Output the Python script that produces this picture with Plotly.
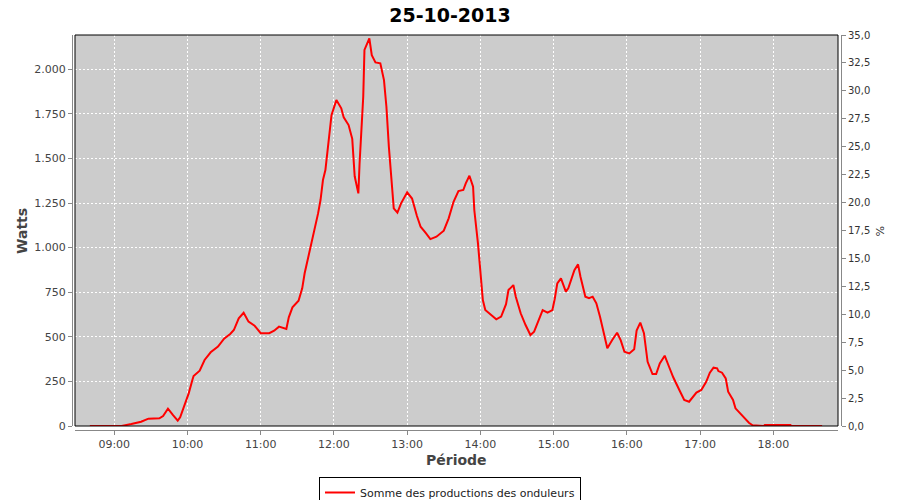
import plotly.graph_objects as go

DAY = "2013-10-25"

times = ["08:40","09:06","09:14","09:22","09:28","09:37","09:40","09:44","09:48","09:52","09:54","09:57",
         "10:01","10:04","10:05","10:10","10:14","10:19","10:25","10:30","10:35","10:38","10:42","10:46","10:50","10:55",
         "11:00","11:07","11:11","11:15","11:21","11:23","11:26","11:31","11:34","11:36","11:39","11:42","11:45","11:47","11:49","11:51","11:53","11:55","11:58",
         "12:02","12:06","12:08","12:12","12:15","12:17","12:20","12:21","12:24","12:25","12:29","12:31","12:34","12:38","12:41","12:43","12:45","12:47","12:49","12:52","12:55",
         "13:00","13:04","13:08","13:11","13:15","13:19","13:24","13:30","13:34","13:38","13:42","13:46","13:48","13:51","13:54","13:55","13:58",
         "14:00","14:02","14:04","14:09","14:13","14:17","14:21","14:23","14:27","14:29","14:33","14:37","14:41","14:44","14:47","14:51","14:55","14:59",
         "15:01","15:03","15:06","15:10","15:12","15:17","15:20","15:22","15:26","15:29","15:32","15:35","15:38","15:41","15:44","15:48","15:52","15:55","15:58",
         "16:02","16:06","16:08","16:11","16:14","16:17","16:21","16:24","16:27","16:31","16:34","16:38","16:43","16:47","16:51","16:54","16:57",
         "17:01","17:05","17:08","17:11","17:14","17:15","17:18","17:21","17:23","17:27","17:29","17:33","17:36","17:40","17:43","17:52","17:53",
         "18:14","18:15","18:40"]

watts = [0,0,11,24,41,43,56,97,62,30,49,108,
         183,258,280,310,370,413,445,490,516,538,604,635,585,562,
         520,520,534,557,544,609,665,702,772,856,949,1033,1117,1192,1267,1379,1435,1575,1743,
         1827,1781,1730,1687,1610,1400,1304,1472,1846,2108,2173,2079,2038,2033,1939,1790,1565,1379,1220,1196,1248,
         1310,1275,1177,1117,1084,1048,1061,1095,1164,1257,1317,1323,1360,1403,1341,1211,1024,
         837,706,650,622,598,613,683,762,790,725,632,566,510,529,585,650,635,650,
         716,800,828,753,772,874,906,837,725,716,725,688,613,529,436,482,523,480,416,
         407,430,535,580,520,360,291,291,351,394,342,273,202,146,136,164,187,
         202,248,299,327,323,308,299,267,192,146,99,71,52,18,4,0,5,
         5,0,0]

series_name = "Somme des productions des onduleurs"
title_text = "25-10-2013"
x_title = "Période"
y_title = "Watts"
y2_title = "%"

watts_ticks = [0, 250, 500, 750, 1000, 1250, 1500, 1750, 2000]
pct_ticks = [0, 2.5, 5, 7.5, 10, 12.5, 15, 17.5, 20, 22.5, 25, 27.5, 30, 32.5, 35]
hour_ticks = ["09:00","10:00","11:00","12:00","13:00","14:00","15:00","16:00","17:00","18:00"]

x_vals = [f"{DAY} {t}" for t in times]

FONT = "DejaVu Sans"
fig = go.Figure()
fig.add_trace(go.Scatter(x=x_vals, y=watts, mode="lines", name=series_name,
                         line=dict(color="#ff0000", width=2), showlegend=True))
fig.add_trace(go.Scatter(x=[x_vals[0]], y=[0], yaxis="y2", mode="lines",
                         line=dict(color="rgba(0,0,0,0)"), showlegend=False, hoverinfo="skip"))

W, H = 900, 500
pl, pr, pt, pb = 72, 841, 35, 430   # paper (axis lines)
il, ir, it, ib = 75, 838, 35, 426   # inner plot area
pw, ph = pr - pl, pb - pt

axis_common = dict(showline=True, linecolor="#888888", linewidth=1, ticks="outside",
                   ticklen=4, tickcolor="#888888", zeroline=False, automargin=False)

fig.update_layout(
    width=W, height=H,
    margin=dict(l=pl, r=W - pr, t=pt, b=H - pb, pad=0, autoexpand=False),
    paper_bgcolor="white", plot_bgcolor="#cccccc",
    separators=",.",
    font=dict(family=FONT, size=11, color="#444444"),
    title=dict(text="<b>" + title_text + "</b>", x=0.5, xref="container", xanchor="center",
               y=1 - 15 / H, yref="container", yanchor="middle",
               font=dict(family=FONT, size=19, color="#000000")),
    xaxis=dict(domain=[(il - pl) / pw, (ir - pl) / pw], anchor="free", position=0,
               type="date", range=[f"{DAY} 08:27:50", f"{DAY} 18:53:00"],
               tickvals=[f"{DAY} {t}" for t in hour_ticks], ticktext=hour_ticks,
               showgrid=True, gridcolor="white", gridwidth=1, griddash="2px,2px",
               tickfont=dict(family=FONT, size=11, color="#444444"), **axis_common),
    yaxis=dict(domain=[(pb - ib) / ph, 1], anchor="free", position=0,
               range=[0, 2192], tickvals=watts_ticks, tickformat=",d",
               showgrid=True, gridcolor="white", gridwidth=1, griddash="2px,2px",
               tickfont=dict(family=FONT, size=11, color="#444444"), **axis_common),
    yaxis2=dict(overlaying="y", side="right", anchor="free", position=1,
                range=[0, 35], tickvals=pct_ticks, tickformat=".1f", showgrid=False,
                tickfont=dict(family=FONT, size=10, color="#333333"), **axis_common),
    legend=dict(orientation="h", x=0.5, xanchor="center", xref="container",
                y=1 - 477 / H, yref="container", yanchor="top",
                bordercolor="#000000", borderwidth=1, bgcolor="white",
                font=dict(family=FONT, size=11, color="#222222"), itemwidth=30),
    shapes=[dict(type="rect", xref="x domain", yref="y domain", x0=0, x1=1, y0=0, y1=1,
                 line=dict(color="#000000", width=1), fillcolor="rgba(0,0,0,0)", layer="above")],
    annotations=[
        dict(text="<b>" + y_title + "</b>", xref="paper", yref="paper",
             x=(22 - pl) / pw, y=(pb - 231) / ph, xanchor="center", yanchor="middle",
             showarrow=False, textangle=-90,
             font=dict(family=FONT, size=14, color="#444444")),
        dict(text=y2_title, xref="paper", yref="paper",
             x=(880 - pl) / pw, y=(pb - 231) / ph, xanchor="center", yanchor="middle",
             showarrow=False, textangle=90,
             font=dict(family=FONT, size=11, color="#333333")),
        dict(text="<b>" + x_title + "</b>", xref="paper", yref="paper",
             x=((il + ir) / 2 - pl) / pw, y=(pb - 460) / ph, xanchor="center", yanchor="middle",
             showarrow=False,
             font=dict(family=FONT, size=14, color="#444444")),
    ],
)

fig.write_html("out.html", config={"displayModeBar": False},
               post_script="document.body.style.margin='0';document.body.style.padding='0';")
